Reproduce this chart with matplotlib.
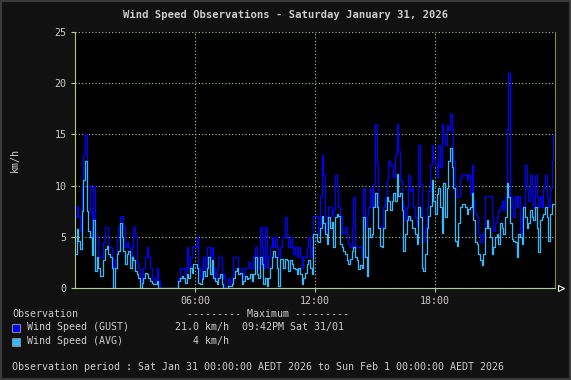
import matplotlib
matplotlib.use("Agg")
import matplotlib.pyplot as plt
from matplotlib.patches import Rectangle

# 5-minute observations, one row per hour (km/h)
gust_kmh = [
    6.9, 8, 7, 5.6, 10, 13, 15, 10, 10, 7.4, 5, 10,
    5, 5, 3, 3, 3, 4.5, 6, 6, 4, 4, 3, 2,
    2.7, 5, 6, 7, 7, 6, 4, 4.5, 4, 3, 4, 6,
    5, 2.5, 2, 0.7, 1.4, 2, 3, 4, 3, 2, 1, 1,
    0.5, 2, 0.7, 0, 0, 0, 0, 0, 0, 0, 0, 0,
    0, 0, 1, 2, 2, 2, 1.4, 4, 2, 3, 4, 4,
    4, 5, 2, 1, 2, 3, 2, 4, 4, 3, 4, 2,
    1, 2, 3, 3, 1, 1.4, 0, 0, 1, 0.5, 0.5, 3,
    3, 3, 2, 2, 1, 1.4, 2, 2, 2.5, 2, 2, 3,
    4, 3, 2, 6, 4, 2, 6, 2, 3, 4, 5, 4,
    5, 4, 3, 4, 5, 5, 6.9, 5, 4, 5, 4, 3.3,
    4, 3, 4, 3, 2, 3, 3, 4, 5, 3, 4, 7,
    7, 7, 5.3, 9, 13, 11, 7, 5.3, 7.9, 7.9, 7, 7.6,
    11, 10, 7.9, 7, 5.4, 5.4, 6, 5, 4.3, 4, 6, 8.9,
    4, 4, 4, 4, 3, 9.8, 6, 7, 7.9, 9.8, 7.9, 10.2,
    16, 12.1, 6, 6, 6, 7.9, 8.9, 10.5, 12.4, 12, 12, 10.8,
    13, 16, 13.4, 10.5, 8.5, 7.9, 6.6, 7.9, 11, 9.5, 9.8, 7.9,
    6.9, 6, 14, 10.2, 4.6, 4.6, 6, 7.9, 9.5, 12.1, 14, 12.6,
    12, 10.8, 14, 11.8, 16, 14.7, 14, 15.9, 15.4, 17, 15.4, 12.4,
    9.8, 8.9, 9, 10.8, 11.1, 11.1, 11, 10.5, 11, 9.2, 12, 8.5,
    7.2, 6.9, 5.3, 4.5, 5, 5.4, 9, 9, 9, 9, 6.9, 5.6,
    6.3, 6.9, 7.6, 8, 8.5, 7.6, 8.9, 15.5, 21, 8.9, 7.9, 6.9,
    9, 7.9, 9, 5.3, 6.9, 7.9, 12, 9.8, 8.5, 11, 9, 7.9,
    11, 8.9, 7.9, 9, 7.9, 9.8, 11, 8.9, 7.9, 9.8, 12.4, 15,
]
avg_kmh = [
    3.3, 5.8, 4.6, 3.8, 7.5, 10.5, 12.4, 7.5, 5.6, 5, 3.2, 6.6,
    1.7, 3, 2, 1.2, 1.2, 2.7, 3.8, 4.1, 3.3, 3, 2, 0,
    2, 3.3, 3.6, 6.3, 5, 3.6, 2.3, 3.3, 3.6, 2, 3, 2.7,
    1.7, 1.4, 1, 0, 0.5, 1, 1.5, 1.4, 1, 0.7, 0.5, 0.4,
    0.4, 0.7, 0, 0, 0, 0, 0, 0, 0, 0, 0, 0,
    0, 0, 0.7, 1, 1.2, 1, 0.5, 1.4, 1, 2, 1.5, 2.3,
    2.3, 2, 0.5, 0.4, 0.9, 1.7, 1.2, 2, 3, 1.4, 2.7, 1,
    0.7, 0.4, 1, 1.4, 0.4, 0, 0, 0, 0.2, 0.2, 0.4, 1,
    1.7, 2, 1.4, 1.5, 0.4, 0.7, 1.2, 0.9, 1, 1.4, 0.7, 1.4,
    3, 1.4, 1, 3, 2.3, 0.4, 1, 0.2, 1, 2, 3, 3.6,
    3, 2, 0.2, 2.8, 2.8, 2, 2.8, 2.7, 1.7, 2.7, 2.3, 2,
    1.9, 1.4, 2, 1.4, 0.4, 1, 1.5, 2.3, 2.7, 2, 1.4, 5.3,
    5.3, 4.6, 4.5, 5.9, 7, 6.3, 5.3, 4.3, 6.9, 5.9, 6.4, 4,
    6.9, 7.2, 7, 4.3, 4, 3.6, 3.3, 2.7, 2.3, 2.8, 3.6, 4,
    3, 2.7, 1.9, 2.2, 2, 6.9, 3, 1.2, 5.9, 5, 5.3, 7.9,
    9.3, 7.9, 5.9, 4.1, 4, 5.9, 7.6, 8.9, 8.5, 7.6, 8.5, 9.3,
    8.5, 11.1, 9, 9.3, 7.6, 3.6, 5.3, 6.6, 7, 6.6, 5.9, 5.9,
    5.3, 4.3, 7.9, 6.9, 2, 1.7, 3.3, 5.9, 7, 8, 10.5, 8.5,
    7.2, 9.2, 9.8, 7.9, 5.4, 10.3, 6.9, 9.8, 12.4, 13.7, 11.8, 9.8,
    4.6, 4.1, 6.3, 7.9, 8.2, 8.2, 7.9, 7.2, 7.7, 7.9, 9.3, 6.6,
    4.5, 4.3, 3.3, 2.7, 2.2, 3.3, 5.9, 6.6, 5.9, 5, 3.3, 4,
    5, 5.3, 4.3, 6.3, 5.9, 5.3, 6.9, 10.3, 8.9, 6.3, 4.8, 4.6,
    4.5, 3, 5.3, 5, 4.3, 7.9, 6.9, 5.9, 6.3, 7.6, 6.9, 6.6,
    7.9, 5.9, 3.5, 6.6, 6.9, 7.2, 7.9, 6.9, 4.6, 7.2, 8.2, 8.2,
]
minutes = [5 * i for i in range(len(gust_kmh))]
hour_ticks = [360, 720, 1080]
hour_labels = ["06:00", "12:00", "18:00"]
y_ticks = [0, 5, 10, 15, 20, 25]

W, H = 571, 380
bg = "#111111"
fg = "#cccccc"
grid_c = "#a8d098"
gust_c = "#0000ff"
avg_c = "#33bbff"
mono = "DejaVu Sans Mono"

fig = plt.figure(figsize=(W / 100, H / 100), dpi=100, facecolor=bg)


def fx(px):
    return px / W


def fy(py):
    return 1 - py / H


ax = fig.add_axes([fx(75), fy(288), fx(555) - fx(75), fy(32) - fy(288)])
ax.set_facecolor("black")

t = minutes + [1440]
ax.step(t, gust_kmh + [gust_kmh[-1]], where="post", color=gust_c, lw=0.9)
ax.step(t, avg_kmh + [avg_kmh[-1]], where="post", color=avg_c, lw=0.9)

ax.set_xlim(0, 1440)
ax.set_ylim(0, 25)
ax.set_xticks(hour_ticks)
ax.set_xticklabels(hour_labels)
ax.set_yticks(y_ticks)
ax.grid(True, color=grid_c, linestyle=(0, (1, 2)), lw=0.8)
ax.tick_params(colors=grid_c, labelcolor=fg, length=3, width=0.8, labelsize=7.2, pad=3)
for lab in ax.get_xticklabels() + ax.get_yticklabels():
    lab.set_family(mono)

ax.spines["top"].set_visible(False)
ax.spines["left"].set_color("#b4c878")
ax.spines["bottom"].set_color("#b0d0a0")
ax.spines["right"].set_color("#8a8a30")
for s in ax.spines.values():
    s.set_linewidth(0.8)
ax.plot([1.012], [0], marker=">", ms=5, mfc="none", mec="white", mew=0.8,
        transform=ax.transAxes, clip_on=False)

ax.set_ylabel("km/h", color=fg, family=mono, fontsize=7.2, labelpad=25)

fig.text(0.5, fy(15), "Wind Speed Observations - Saturday January 31, 2026",
         ha="center", va="center", color=fg, family=mono, fontsize=7.6, weight="bold")

txt = dict(color=fg, family=mono, fontsize=7.2, va="center")
fig.text(fx(12), fy(314), "Observation", ha="left", **txt)
fig.text(fx(187), fy(314), "--------- Maximum ---------", ha="left", **txt)
fig.text(fx(27), fy(327), "Wind Speed (GUST)", ha="left", **txt)
fig.text(fx(229), fy(327), "21.0 km/h", ha="right", **txt)
fig.text(fx(242), fy(327), "09:42PM Sat 31/01", ha="left", **txt)
fig.text(fx(27), fy(341), "Wind Speed (AVG)", ha="left", **txt)
fig.text(fx(229), fy(341), "4 km/h", ha="right", **txt)
fig.text(fx(12), fy(367),
         "Observation period : Sat Jan 31 00:00:00 AEDT 2026 to Sun Feb 1 00:00:00 AEDT 2026",
         ha="left", **txt)

for py, c in [(327, gust_c), (341, avg_c)]:
    fig.patches.append(Rectangle((fx(12), fy(py + 4.5)), fx(8), fy(0) - fy(8),
                                 transform=fig.transFigure, facecolor=c,
                                 edgecolor="#888888", lw=0.8))

fig.patches.append(Rectangle((0, 0), 1, 1, transform=fig.transFigure, fill=False,
                             edgecolor="#3a3a3a", lw=3))

fig.savefig("out.png", dpi=100, facecolor=bg)
